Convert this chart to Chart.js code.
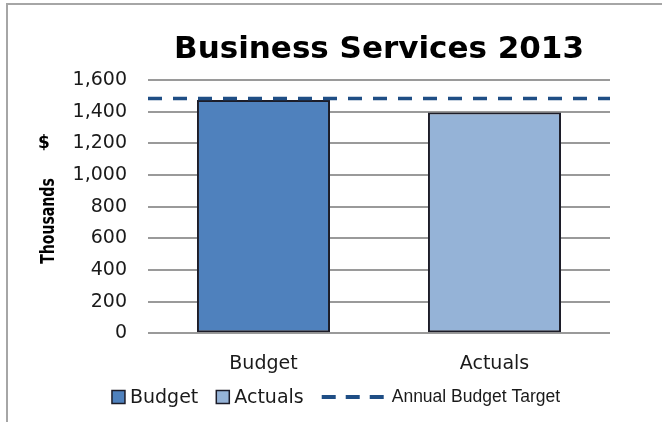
<!DOCTYPE html>
<html>
<head>
<meta charset="utf-8">
<title>Business Services 2013</title>
<script src="https://cdn.jsdelivr.net/npm/chart.js@4.4.1/dist/chart.umd.min.js"></script>
<style>
  html, body { margin: 0; padding: 0; background: #fff; }
  #wrap { width: 662px; height: 422px; }
</style>
</head>
<body>
<div id="wrap"><canvas id="chart" width="662" height="422"></canvas></div>
<script>
// valores (miles de $)
const categories = ["Budget", "Actuals"];
const spending = [1475, 1395];
const barColors = ["#4F81BD", "#95B3D7"];
const targetLabel = "Annual Budget Target";
const targetValue = 1485;
const yTicks = [0, 200, 400, 600, 800, 1000, 1200, 1400, 1600];

const tickFont = { family: "'DejaVu Sans', sans-serif", size: 19 };

// marco gris, fondo blanco y titulo del eje Y ("$" / "Thousands")
const framePlugin = {
  id: "frame",
  beforeDraw(chart) {
    const ctx = chart.ctx;
    ctx.save();
    ctx.fillStyle = "#fff";
    ctx.fillRect(0, 0, chart.width, chart.height);
    ctx.strokeStyle = "#a6a6a6";
    ctx.lineWidth = 2;
    ctx.beginPath();
    ctx.moveTo(7, chart.height);
    ctx.lineTo(7, 4);
    ctx.lineTo(chart.width, 4);
    ctx.stroke();
    ctx.restore();
  },
  afterDraw(chart) {
    const ctx = chart.ctx;
    ctx.save();
    ctx.fillStyle = "#000";
    ctx.textAlign = "center";
    ctx.textBaseline = "middle";
    ctx.font = "bold 17px 'DejaVu Sans', sans-serif";
    ctx.fillText("$", 44, 144);
    // texto estrecho: se comprime en horizontal
    ctx.translate(49, 221);
    ctx.rotate(-Math.PI / 2);
    ctx.scale(0.74, 1);
    ctx.font = "bold 19px 'DejaVu Sans', sans-serif";
    ctx.fillText("Thousands", 0, 0);
    ctx.restore();
  },
};

// leyenda propia: cajas para las barras, linea discontinua para el objetivo
const legendPlugin = {
  id: "customLegend",
  afterDraw(chart) {
    const ctx = chart.ctx;
    const bars = chart.data.datasets[1];
    const line = chart.data.datasets[0];
    const y = 397;
    const box = 13;
    const barFont = "19px 'DejaVu Sans', sans-serif";
    const lineFont = "17.5px 'Liberation Sans', Arial, sans-serif";
    const dashW = 62;

    ctx.save();
    const items = [];
    ctx.font = barFont;
    categories.forEach((c, i) => {
      items.push({ kind: "box", text: c, color: bars.backgroundColor[i], w: box + 5 + ctx.measureText(c).width });
    });
    ctx.font = lineFont;
    items.push({ kind: "line", text: line.label, color: line.borderColor, w: dashW + 8 + ctx.measureText(line.label).width });
    const gap = 18;
    const total = items.reduce((s, it) => s + it.w, 0) + gap * (items.length - 1);
    let x = 336 - total / 2;

    ctx.textBaseline = "middle";
    ctx.textAlign = "left";
    items.forEach((it) => {
      if (it.kind === "box") {
        ctx.fillStyle = it.color;
        ctx.fillRect(x, y - box / 2, box, box);
        ctx.strokeStyle = "#1c1c28";
        ctx.lineWidth = 1.5;
        ctx.strokeRect(x, y - box / 2, box, box);
        ctx.fillStyle = "#1a1a1a";
        ctx.font = barFont;
        ctx.fillText(it.text, x + box + 5, y + 1);
      } else {
        ctx.strokeStyle = it.color;
        ctx.lineWidth = 4;
        ctx.setLineDash([14, 10]);
        ctx.beginPath();
        ctx.moveTo(x, y);
        ctx.lineTo(x + dashW, y);
        ctx.stroke();
        ctx.setLineDash([]);
        ctx.fillStyle = "#1a1a1a";
        ctx.font = lineFont;
        ctx.fillText(it.text, x + dashW + 8, y);
      }
      x += it.w + gap;
    });
    ctx.restore();
  },
};

new Chart(document.getElementById("chart").getContext("2d"), {
  type: "bar",
  data: {
    labels: categories,
    datasets: [
      {
        type: "line",
        label: targetLabel,
        data: [{ x: 0, y: targetValue }, { x: 1, y: targetValue }],
        xAxisID: "x2",
        borderColor: "#1F4E85",
        borderWidth: 3.5,
        borderDash: [14, 11],
        borderCapStyle: "butt",
        pointRadius: 0,
        fill: false,
      },
      {
        type: "bar",
        label: "Spending",
        data: spending,
        xAxisID: "x",
        backgroundColor: barColors,
        borderColor: "#1c1c28",
        borderWidth: 2,
        borderSkipped: false,
        grouped: false,
        barPercentage: 0.576,
        categoryPercentage: 1,
      },
    ],
  },
  options: {
    responsive: false,
    animation: false,
    layout: { padding: { left: 0, right: 52, top: 0, bottom: 28 } },
    plugins: {
      legend: { display: false },
      tooltip: { enabled: false },
      title: {
        display: true,
        text: "Business Services 2013",
        fullSize: false,
        color: "#000",
        font: { family: "'DejaVu Sans', sans-serif", size: 31, weight: "bold" },
        padding: { top: 31, bottom: 12 },
      },
    },
    scales: {
      x: {
        type: "category",
        offset: true,
        grid: { display: false, drawTicks: false },
        border: { display: false },
        ticks: { font: tickFont, color: "#1a1a1a", padding: 19 },
      },
      x2: {
        type: "linear",
        display: false,
        offset: false,
        min: 0,
        max: 1,
      },
      y: {
        min: yTicks[0],
        max: yTicks[yTicks.length - 1],
        border: { display: false },
        grid: { color: "#9a9a9a", lineWidth: 2, drawTicks: false },
        ticks: {
          stepSize: yTicks[1] - yTicks[0],
          font: tickFont,
          color: "#1a1a1a",
          padding: 21,
        },
        afterFit(scale) {
          scale.width = 148;
        },
      },
    },
  },
  plugins: [framePlugin, legendPlugin],
});
</script>
</body>
</html>
